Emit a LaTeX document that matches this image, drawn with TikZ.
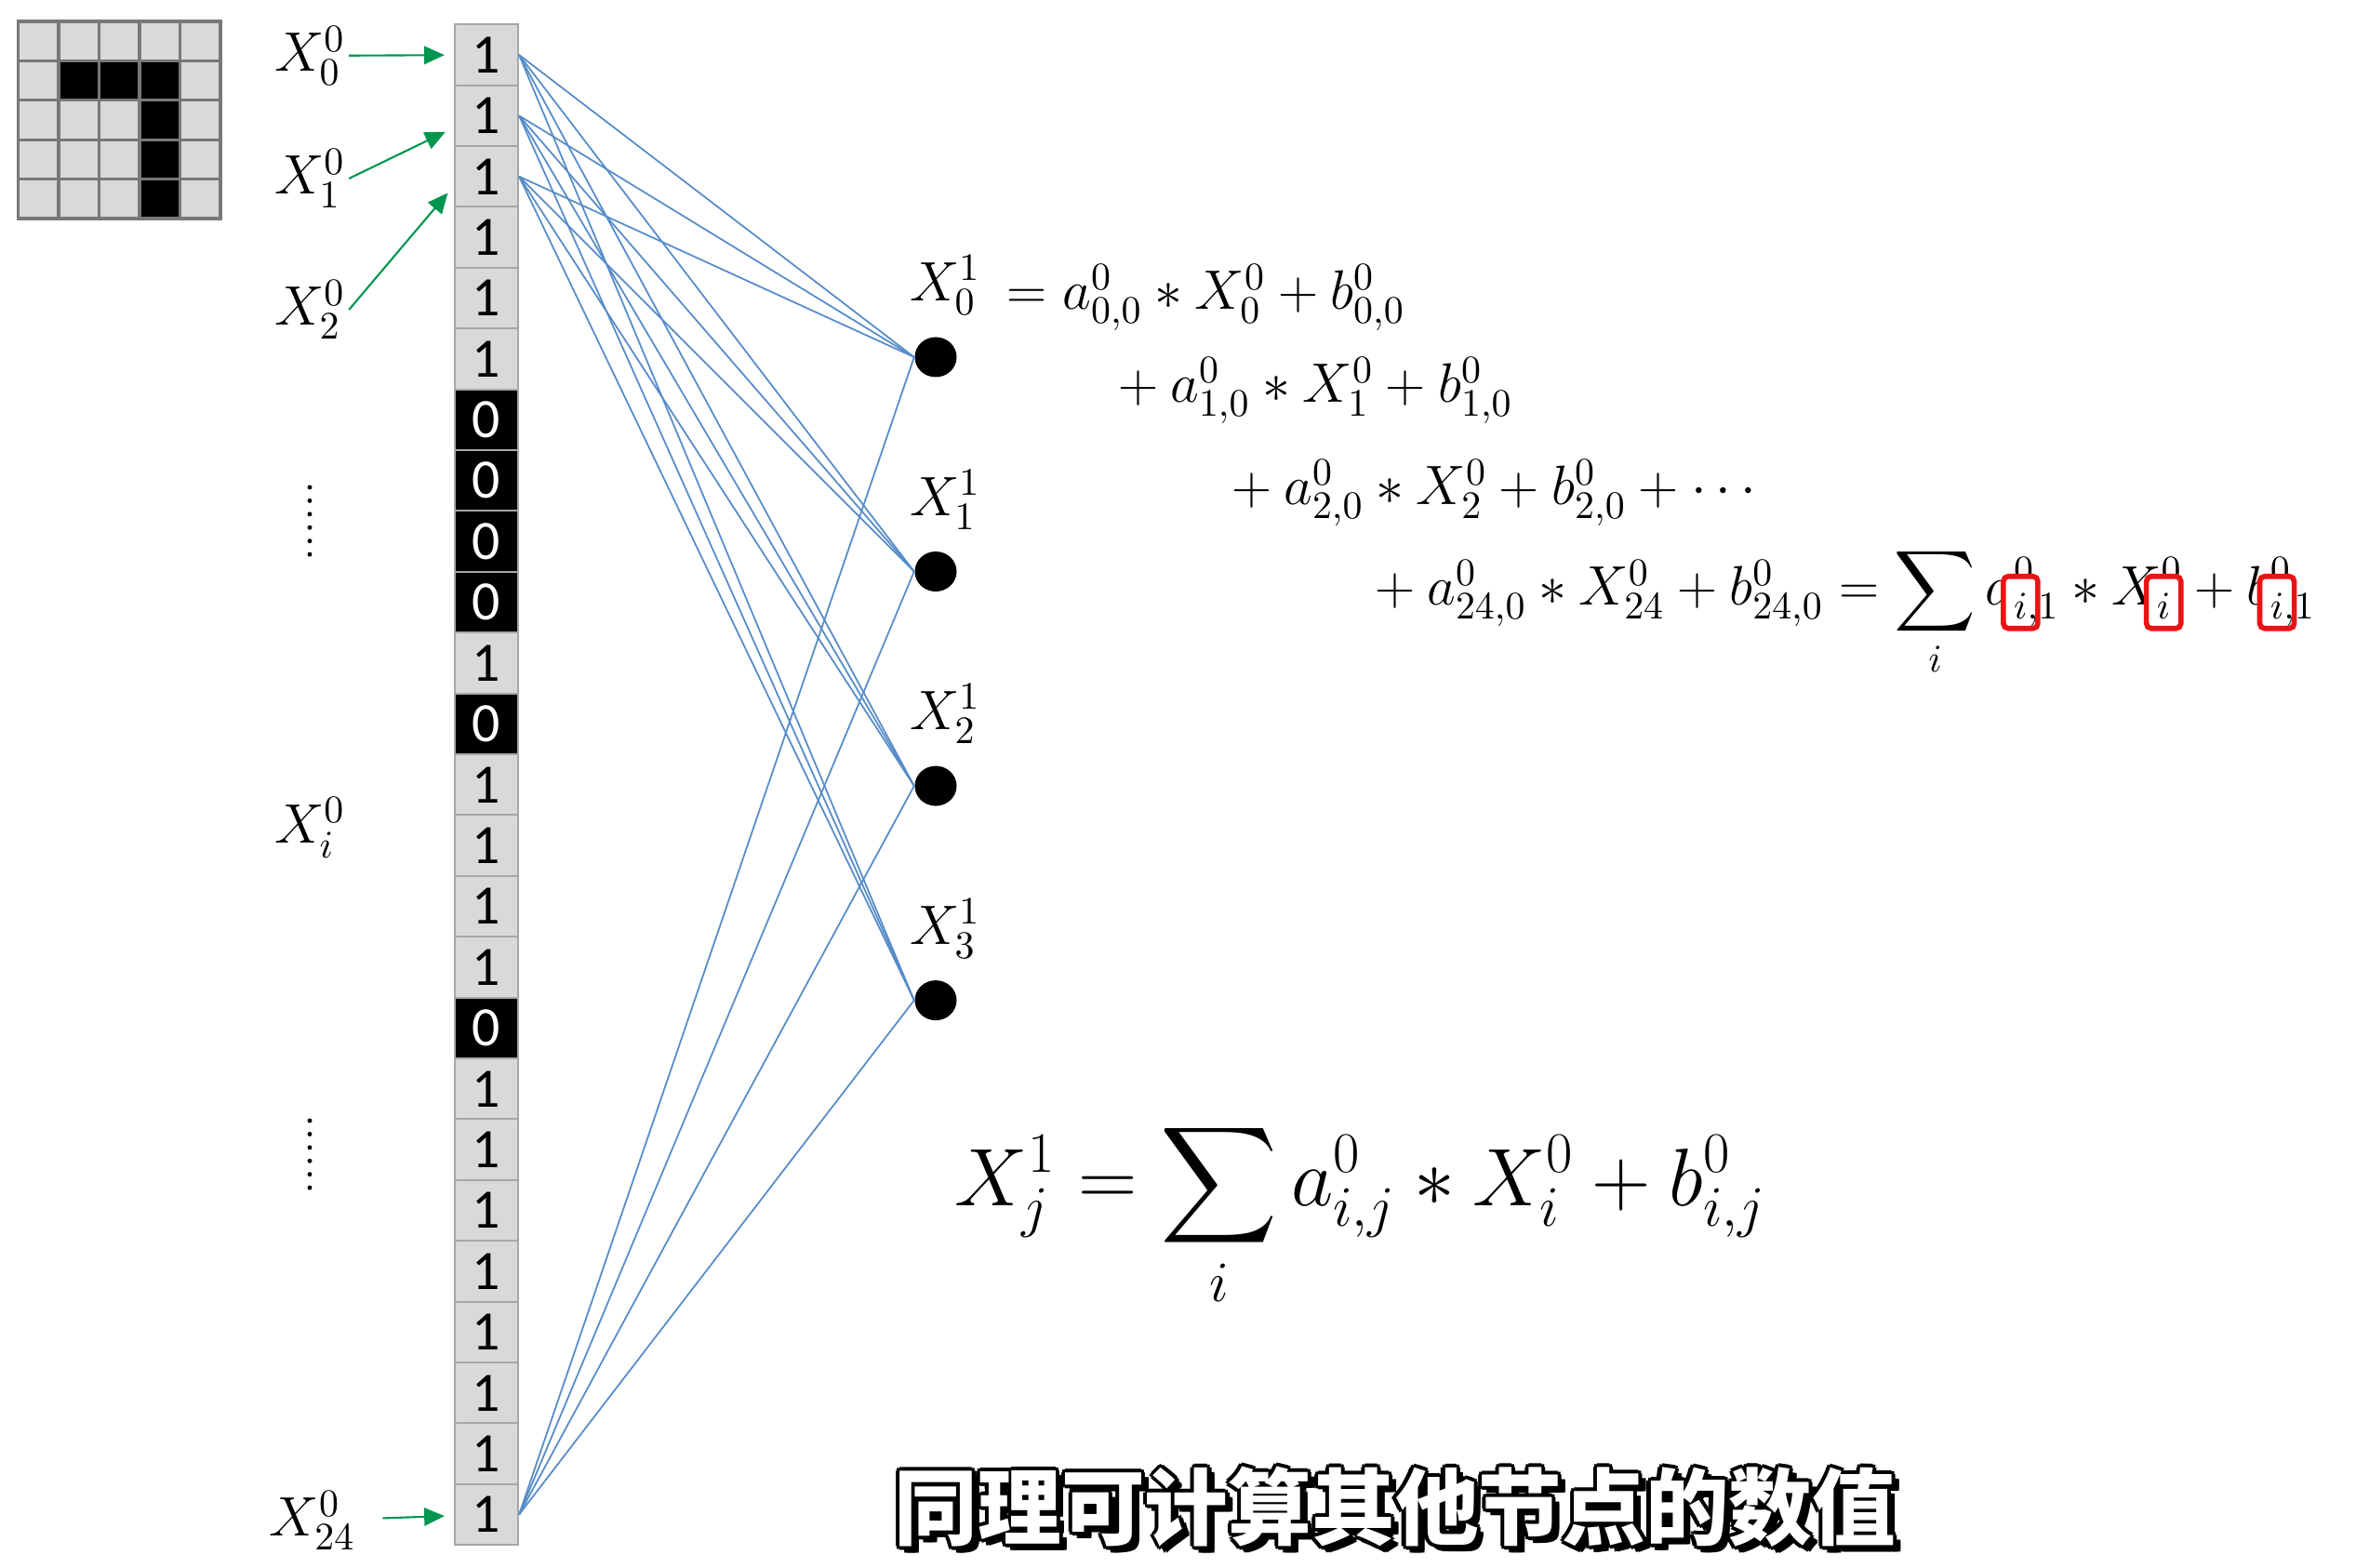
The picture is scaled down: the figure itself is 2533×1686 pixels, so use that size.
\RequirePackage{fix-cm}
\documentclass[tikz,border=0pt]{standalone}
\usepackage{amsmath}
\usepackage{fontspec}
\usepackage{xcolor}
\usepackage{tikz}
\usetikzlibrary{positioning}
\usetikzlibrary{shapes,arrows,calc,arrows.meta}
\newfontfamily\digitfont{Carlito}
\newfontfamily\cjkfont{Noto Sans CJK SC}
\definecolor{wireblue}{RGB}{86,140,200}
\definecolor{feedgreen}{RGB}{0,150,80}
\definecolor{cellgray}{RGB}{217,217,217}
\definecolor{cellline}{RGB}{166,166,166}
\definecolor{gridline}{RGB}{120,120,120}
\definecolor{markred}{RGB}{235,20,20}

\newcommand{\capline}{同理可计算其他节点的数值}
\newcommand{\redi}{\tikz[baseline=(ri.base)]{\node[anchor=center, draw=markred, line width=1.6pt, rounded corners=1.5pt, fill=white, overlay, minimum width=0.37cm, minimum height=0.56cm, inner sep=0pt] at (0pt,1.2pt) {}; \node[anchor=center, inner sep=0pt] (ri) at (0pt,0pt) {$\scriptstyle i$};}}

\begin{document}
\begin{tikzpicture}[x=0.01cm, y=-0.01cm,
    cell/.style={draw=cellline, line width=0.6pt, minimum width=0.68cm, minimum height=0.655cm, inner sep=0pt, font=\digitfont\fontsize{17}{17}\selectfont},
    cell1/.style={cell, fill=cellgray},
    cell0/.style={cell, fill=black, text=white},
    pix/.style={draw=gridline, line width=0.9pt, fill=cellgray, minimum width=0.435cm, minimum height=0.424cm, inner sep=0pt},
    pixon/.style={pix, fill=black},
    lbl/.style={inner sep=1pt, font=\fontsize{17}{17}\selectfont},
    neuron/.style={ellipse, fill=black, minimum width=0.45cm, minimum height=0.43cm, inner sep=0pt},
    wire/.style={draw=wireblue, line width=0.5pt},
    feed/.style={draw=feedgreen, line width=0.6pt, -{Triangle[length=6.2pt, width=5.5pt]}, shorten >=1mm},
    eqn/.style={anchor=base west, inner sep=0pt, font=\fontsize{17}{17}\selectfont},
    bigeqn/.style={anchor=base west, inner sep=0pt, font=\fontsize{25}{25}\selectfont},
    subline/.style={font=\cjkfont\bfseries\fontsize{25.5}{25.5}\selectfont, inner sep=0pt}]
    \useasboundingbox[fill=white] (0,0) rectangle (2533,1686);

    % Digit picture
    \foreach \r in {0,...,4}
      \foreach \c in {0,...,4}
        \node[pix] (pix\r\c) at ({41.25+43.5*\c}, {44.2+42.4*\r}) {};
    \foreach \r/\c in {1/1,1/2,1/3,2/3,3/3,4/3}
      \node[pixon] at ({41.25+43.5*\c}, {44.2+42.4*\r}) {};

    % Input column
    \foreach \v [count=\i from 0] in {1,1,1,1,1,1,0,0,0,0,1,0,1,1,1,1,0,1,1,1,1,1,1,1,1}
      \node[cell\v] (cell\i) at (523, {59+65.4*\i}) {\v};

    % Input labels
    \node[lbl] (in0) at (333,60) {$X^0_0$};
    \node[lbl] (in1) at (333,192) {$X^0_1$};
    \node[lbl] (in2) at (333,333) {$X^0_2$};
    \node[lbl] (ini) at (333,890) {$X^0_i$};
    \node[lbl] (in24) at (336,1635) {$X^0_{24}$};
    \draw[dash pattern=on 0pt off 4.1pt, line cap=round, line width=1.4pt] (333,524) -- (333,597);
    \draw[dash pattern=on 0pt off 4.1pt, line cap=round, line width=1.4pt] (333,1205) -- (333,1278);

    % Hidden units
    \node[neuron] (unit0) at (1006,384) {};
    \node[neuron, below=1.86cm of unit0] (unit1) {};
    \node[neuron, below=1.86cm of unit1] (unit2) {};
    \node[neuron, below=1.86cm of unit2] (unit3) {};
    \foreach \j in {0,...,3}
      \node[lbl, above=0.19cm of unit\j, xshift=0.1cm] (out\j) {$X^1_\j$};

    % Arrows
    \draw[feed] (in0) -- (cell0);
    \draw[feed] (in1.east) -- ([yshift=-0.13cm]cell1.west);
    \draw[feed] (in2.east) -- ([yshift=-0.1cm]cell2.west);
    \draw[feed, shorten <=0.25cm] (in24) -- (cell24);
    \foreach \s in {0,1,2,24}
      \foreach \t in {0,...,3}
        \draw[wire] (cell\s.east) -- (unit\t.west);

    % Equations
    \node[eqn] (eq0) at (1082,333) {$= a^0_{0,0} * X^0_0 + b^0_{0,0}$};
    \node[eqn] (eq1) at (1188,433) {${}+ a^0_{1,0} * X^0_1 + b^0_{1,0}$};
    \node[eqn] (eq2) at (1310,543) {${}+ a^0_{2,0} * X^0_2 + b^0_{2,0} + \cdots$};
    \node[eqn] (eq3) at (1464,651) {${}+ a^0_{24,0} * X^0_{24} + b^0_{24,0} = \displaystyle\sum_i a^0_{\redi,1} * X^0_{\redi} + b^0_{\redi,1}$};
    \node[bigeqn] (bigeq) at (1026,1297) {$\displaystyle X^1_j = \sum_i a^0_{i,j} * X^0_i + b^0_{i,j}$};

    % Subtitle
    \foreach \dx/\dy in {-1.2/0,1.2/0,0/-1.2,0/1.2,-0.85/-0.85,0.85/0.85,-0.85/0.85,0.85/-0.85,2.2/-2.2,1.4/-2.2,2.2/-1.4}
      \node[subline, text=black] at ($(1500,1620)+(\dx pt,\dy pt)$) {\capline};
    \node[subline, text=white] (note) at (1500,1620) {\capline};
\end{tikzpicture}
\end{document}
